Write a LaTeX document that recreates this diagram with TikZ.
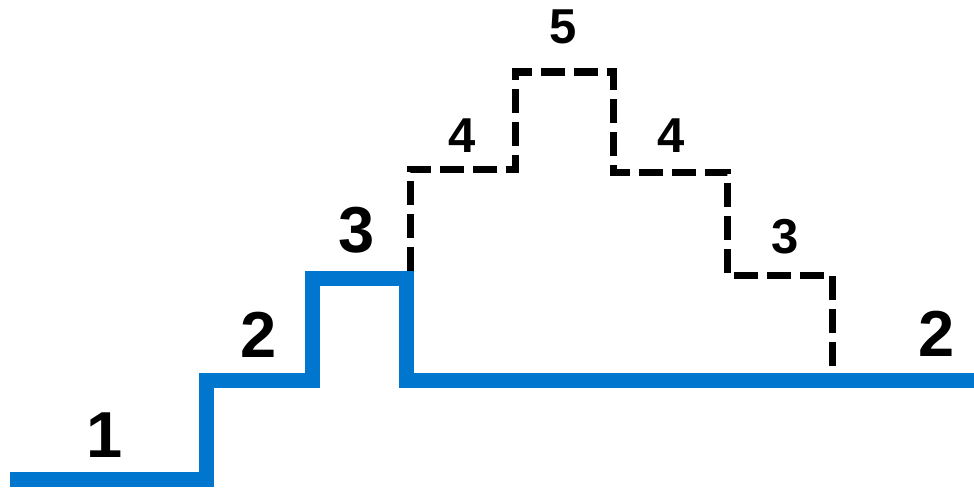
\documentclass[tikz,border=0pt]{standalone}
\usepackage{fontspec}
\setmainfont{Liberation Sans}
\definecolor{stairblue}{RGB}{0,118,206}
\begin{document}
\begin{tikzpicture}[x=1pt,y=-1pt,
  blueline/.style={draw=stairblue,line width=15pt,line join=miter,line cap=butt},
  dashline/.style={draw=black,line width=7pt,line join=miter,dash pattern=on 24pt off 9pt},
  biglabel/.style={font=\bfseries\fontsize{65}{65}\selectfont,inner sep=0pt},
  smalllabel/.style={font=\bfseries\fontsize{49}{49}\selectfont,inner sep=0pt}]
\useasboundingbox (0,0) rectangle (974,487);
% solid blue stair
\draw[blueline] (10,479.5) -- (206,479.5) -- (206,380) -- (312,380) -- (312,278.5)
  -- (406.5,278.5) -- (406.5,380) -- (974,380);
% dashed stair
\draw[dashline] (410,271) -- (410,169) -- (515.5,169) -- (515.5,72) -- (613,72)
  -- (613,172) -- (727,172) -- (727,275) -- (832,275) -- (832,373);
% labels
\node[biglabel] (l1) at (105,435) {1};
\node[biglabel] (l2) at (259,335) {2};
\node[biglabel] (l3) at (357,230) {3};
\node[biglabel] (l2r) at (937,334) {2};
\node[smalllabel] (s4a) at (462,136) {4};
\node[smalllabel] (s5) at (563,27) {5};
\node[smalllabel] (s4b) at (671,136) {4};
\node[smalllabel] (s3) at (785,237) {3};
\end{tikzpicture}
\end{document}
